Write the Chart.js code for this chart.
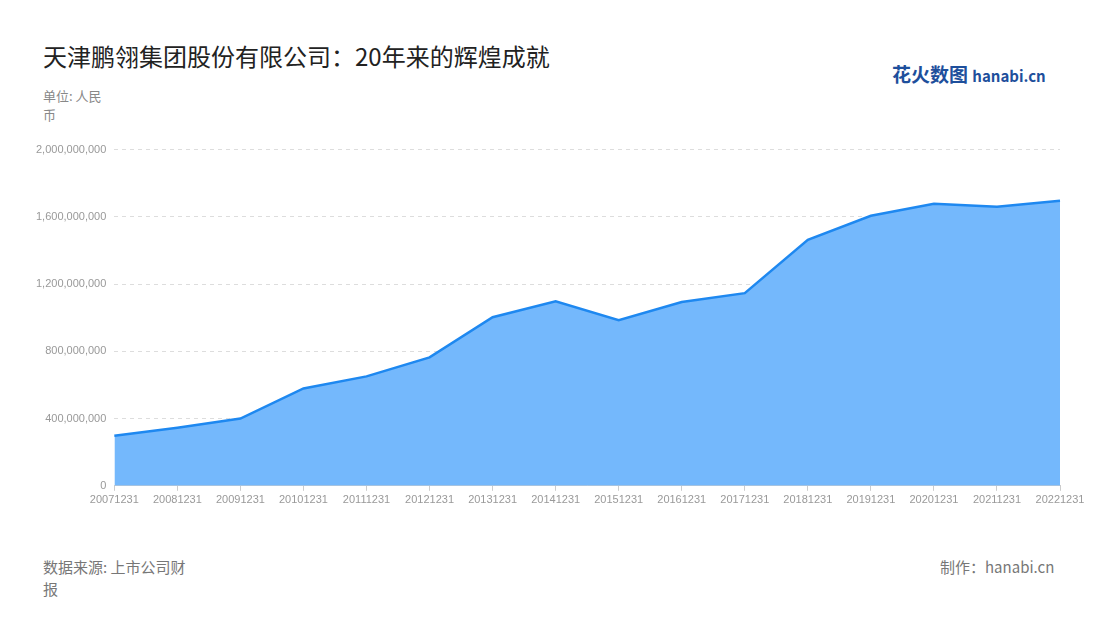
<!DOCTYPE html>
<html><head><meta charset="utf-8">
<script src="https://cdn.jsdelivr.net/npm/chart.js@4/dist/chart.umd.min.js"></script>
<style>
body{margin:0;width:1100px;height:620px;background:#fff;font-family:"Noto Sans CJK SC","Noto Sans",sans-serif;position:relative;overflow:hidden}
.t{position:absolute;white-space:nowrap}
#box{position:absolute;left:0;top:135px;width:1100px;height:375px}
</style></head><body>
<div class="t" style="left:43px;top:38px;font-size:24px;color:#222">天津鹏翎集团股份有限公司：20年来的辉煌成就</div>
<div class="t" style="left:892px;top:60px;font-size:19px;font-weight:bold;color:#1e4f9c">花火数图 <span style="font-size:15px">hanabi.cn</span></div>
<div class="t" style="left:43px;top:86px;font-size:13px;color:#888;line-height:19px">单位: 人民<br>币</div>
<div class="t" style="left:43px;top:556px;font-size:15px;color:#777;line-height:22px">数据来源: 上市公司财<br>报</div>
<div class="t" style="left:940px;top:556px;font-size:15px;color:#777">制作：hanabi.cn</div>
<div id="box"><canvas id="c"></canvas></div>
<script>
const categories = ["20071231","20081231","20091231","20101231","20111231","20121231","20131231","20141231","20151231","20161231","20171231","20181231","20191231","20201231","20211231","20221231"];
const values = [298e6,346e6,400e6,579e6,651e6,764e6,1003e6,1098e6,985e6,1093e6,1146e6,1463e6,1606e6,1678e6,1660e6,1696e6];
new Chart(document.getElementById("c"), {
  type: "line",
  data: { labels: categories, datasets: [{ data: values, fill: "origin", borderColor: "#1e88f0", backgroundColor: "rgba(116,184,252,1)", borderWidth: 2.5, pointRadius: 0, tension: 0 }] },
  options: {
    responsive: true, maintainAspectRatio: false, animation: false,
    layout: { padding: { left: 28, right: 40, top: 5 } },
    plugins: { legend: { display: false }, tooltip: { enabled: false } },
    scales: {
      x: { offset: false, grid: { display: true, drawOnChartArea: false, tickLength: 5, color: "#ccc" }, border: { color: "#ccc" },
        ticks: { color: "#999", font: { size: 11 }, maxRotation: 0, autoSkip: false } },
      y: { min: 0, max: 2000000000, border: { display: false, dash: [4, 4] },
        grid: { color: "#ddd", drawTicks: false },
        ticks: { stepSize: 400000000, color: "#999", font: { size: 11 }, padding: 8,
          callback: v => v.toLocaleString("en-US") } }
    }
  }
});
</script></body></html>
